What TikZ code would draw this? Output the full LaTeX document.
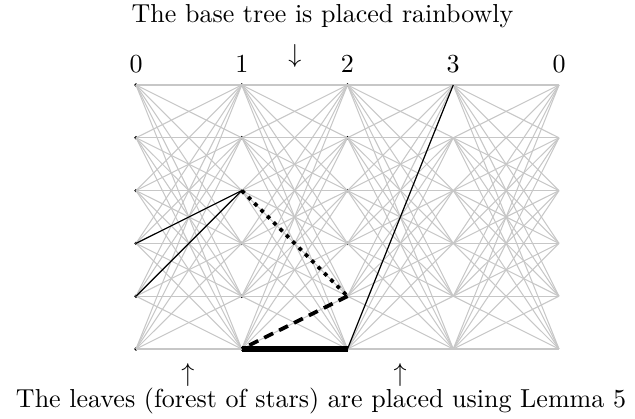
\documentclass[tikz,border=0pt]{standalone}
\usetikzlibrary{arrows.meta}
\begin{document}
\begin{tikzpicture}[x=0.3846pt,y=-0.3846pt,
  gedge/.style={black!22, line width=0.4pt},
  dotnode/.style={circle, fill=black, inner sep=0pt, minimum size=1.4pt},
  tedge/.style={black, line width=0.45pt},
  dotedge/.style={black, line width=1.45pt, dotted},
  dashedge/.style={black, line width=1.45pt, dash pattern=on 3.8pt off 2.6pt},
  boldedge/.style={black, line width=2pt},
  lbl/.style={anchor=base, inner sep=0pt}]
\useasboundingbox (0,0) rectangle (635,419);
\foreach \i in {0,...,4} \foreach \j in {0,...,5} {
  \coordinate (v-\i-\j) at ({136+105.75*\i},{85+52.8*\j});
}
\foreach \i in {0,1,2} \foreach \j in {0,...,5} {
  \node[dotnode] (d-\i-\j) at (v-\i-\j) {};
}
\foreach \i in {0,...,3} {
  \pgfmathtruncatemacro{\k}{\i+1}
  \foreach \j in {0,...,5} \foreach \l in {0,...,5} {
    \draw[gedge] (v-\i-\j) -- (v-\k-\l);
  }
}
\draw[tedge] (v-0-3) -- (v-1-2);
\draw[tedge] (v-0-4) -- (v-1-2);
\draw[dotedge] (v-1-2) -- (v-2-4);
\draw[dashedge] (v-2-4) -- (v-1-5);
\draw[boldedge] (v-1-5) -- (v-2-5);
\draw[tedge] (v-2-5) -- (v-3-0);
% column labels
\node[lbl] (c0) at (136,73) {0};
\node[lbl] (c1) at (241.75,73) {1};
\node[lbl] (c2) at (347.5,73) {2};
\node[lbl] (c3) at (453.25,73) {3};
\node[lbl] (c4) at (559,73) {0};
% captions
\node[lbl] (top) at (322.5,23) {The base tree is placed rainbowly};
\node[lbl] (bot) at (321,408) {The leaves (forest of stars) are placed using Lemma 5};
% arrows
\node[lbl] (a0) at (295,63) {$\downarrow$};
\node[lbl] (a1) at (188,382) {$\uparrow$};
\node[lbl] (a2) at (400,382) {$\uparrow$};
\end{tikzpicture}
\end{document}
